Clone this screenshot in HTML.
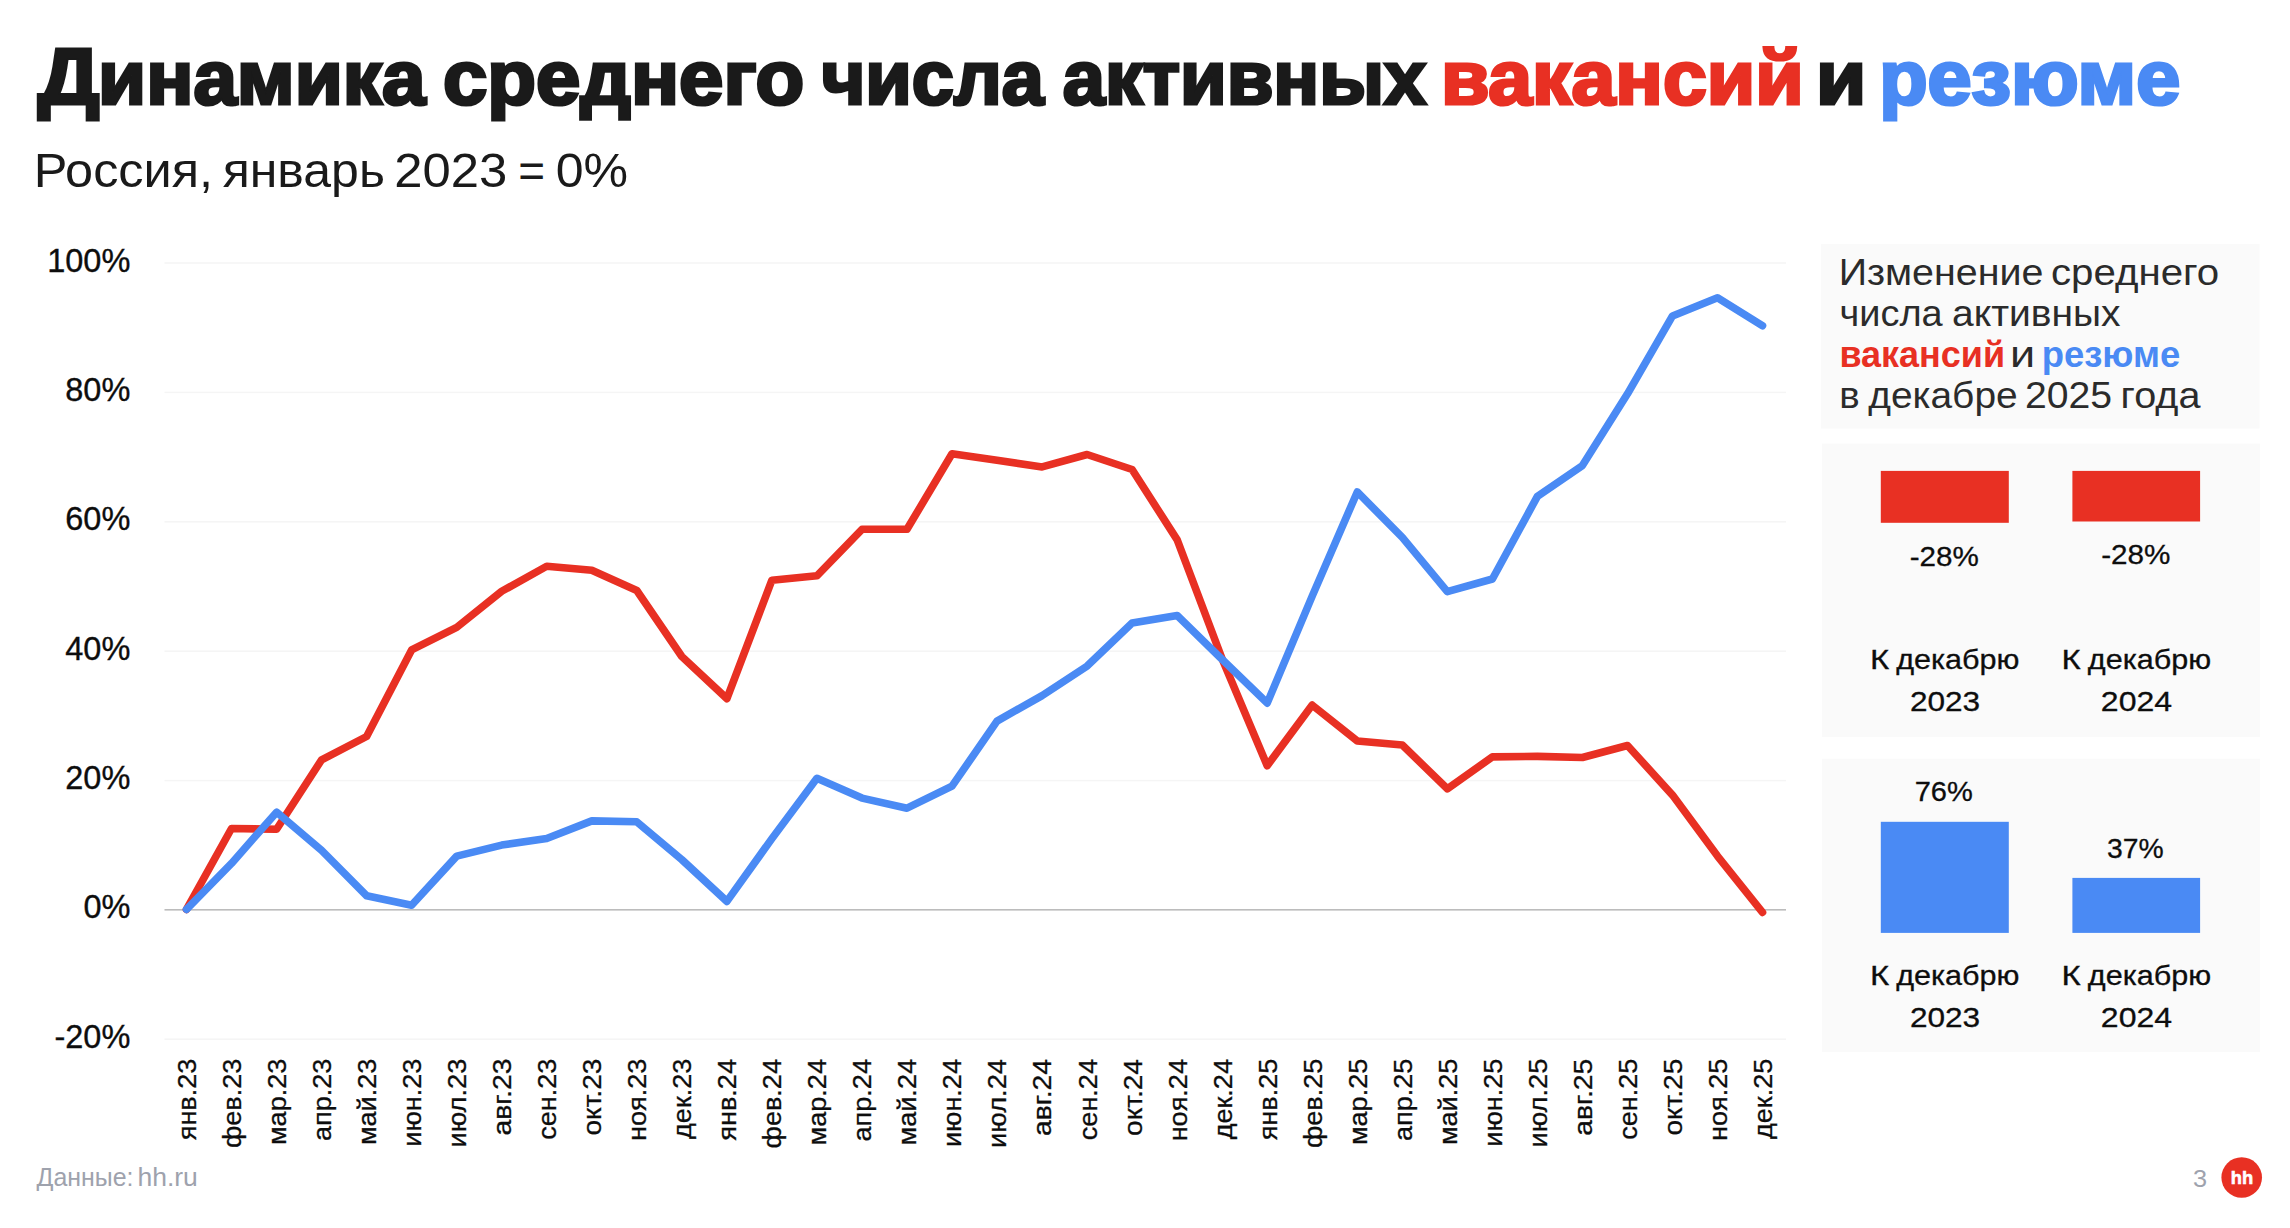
<!DOCTYPE html>
<html lang="ru"><head><meta charset="utf-8"><title>Динамика среднего числа активных вакансий и резюме</title>
<style>
html,body{margin:0;padding:0;background:#fff;}
body{width:2290px;height:1228px;overflow:hidden;font-family:"Liberation Sans",sans-serif;}
svg{display:block;position:absolute;left:0;top:0;}
text{font-family:"Liberation Sans",sans-serif;}
.t{font-weight:700;stroke-linejoin:miter;paint-order:stroke fill;}
.ax{fill:#0d0d0d;stroke:#0d0d0d;stroke-width:.35px;}
.xl{fill:#0d0d0d;stroke:#0d0d0d;stroke-width:.3px;}
.p{fill:#2b2b2b;}
.pb{font-weight:700;}
.b{fill:#0d0d0d;stroke:#0d0d0d;stroke-width:.3px;}
.f{fill:#9ea2ad;}
</style></head><body>
<svg width="2290" height="1228" viewBox="0 0 2290 1228">

<text class="t" style="fill:#1a1a1a;font-weight:700;stroke:#1a1a1a;stroke-width:3.2px;" x="37.74" y="104.10" font-size="80.20" textLength="61.83" lengthAdjust="spacingAndGlyphs">Д</text>
<text class="t" style="fill:#1a1a1a;font-weight:700;stroke:#1a1a1a;stroke-width:3.2px;" x="98.08" y="104.10" font-size="76.00" textLength="327.33" lengthAdjust="spacingAndGlyphs">инамика</text>
<text class="t" style="fill:#1a1a1a;font-weight:700;stroke:#1a1a1a;stroke-width:3.2px;" x="443.00" y="104.10" font-size="76.00" textLength="361.21" lengthAdjust="spacingAndGlyphs">среднего</text>
<text class="t" style="fill:#1a1a1a;font-weight:700;stroke:#1a1a1a;stroke-width:3.2px;" x="821.44" y="104.10" font-size="76.00" textLength="222.48" lengthAdjust="spacingAndGlyphs">числа</text>
<text class="t" style="fill:#1a1a1a;font-weight:700;stroke:#1a1a1a;stroke-width:3.2px;" x="1062.68" y="104.10" font-size="76.00" textLength="363.58" lengthAdjust="spacingAndGlyphs">активных</text>
<text class="t" style="fill:#e83023;font-weight:700;stroke:#e83023;stroke-width:3.2px;" x="1440.91" y="104.10" font-size="76.00" textLength="362.73" lengthAdjust="spacingAndGlyphs">вакансий</text>
<text class="t" style="fill:#1a1a1a;font-weight:700;stroke:#1a1a1a;stroke-width:3.2px;" x="1816.13" y="104.10" font-size="76.00" textLength="50.23" lengthAdjust="spacingAndGlyphs">и</text>
<text class="t" style="fill:#4a8af4;font-weight:700;stroke:#4a8af4;stroke-width:3.2px;" x="1879.20" y="104.10" font-size="76.00" textLength="301.00" lengthAdjust="spacingAndGlyphs">резюме</text>
<text style="fill:#1a1a1a;" x="33.71" y="186.60" font-size="48.60" textLength="179.36" lengthAdjust="spacingAndGlyphs">Россия,</text>
<text style="fill:#1a1a1a;" x="222.69" y="186.60" font-size="48.60" textLength="162.26" lengthAdjust="spacingAndGlyphs">январь</text>
<text style="fill:#1a1a1a;" x="394.25" y="186.60" font-size="48.60" textLength="112.99" lengthAdjust="spacingAndGlyphs">2023</text>
<text style="fill:#1a1a1a;" x="518.36" y="186.60" font-size="48.60" textLength="26.80" lengthAdjust="spacingAndGlyphs">=</text>
<text style="fill:#1a1a1a;" x="555.74" y="186.60" font-size="48.60" textLength="72.34" lengthAdjust="spacingAndGlyphs">0%</text>
<rect x="164.5" y="262.25" width="1621.5" height="1.5" fill="#f5f5f5"/>
<rect x="164.5" y="391.65" width="1621.5" height="1.5" fill="#f5f5f5"/>
<rect x="164.5" y="521.05" width="1621.5" height="1.5" fill="#f5f5f5"/>
<rect x="164.5" y="650.45" width="1621.5" height="1.5" fill="#f5f5f5"/>
<rect x="164.5" y="779.85" width="1621.5" height="1.5" fill="#f5f5f5"/>
<rect x="164.5" y="1038.45" width="1621.5" height="1.5" fill="#f5f5f5"/>
<rect x="164.5" y="909.0" width="1621.5" height="1.6" fill="#bcbcbc"/>
<text class="ax" x="47.22" y="271.6" font-size="33.0" textLength="83.14" lengthAdjust="spacingAndGlyphs">100%</text>
<text class="ax" x="65.30" y="401.0" font-size="33.0" textLength="65.06" lengthAdjust="spacingAndGlyphs">80%</text>
<text class="ax" x="65.30" y="530.4" font-size="33.0" textLength="65.06" lengthAdjust="spacingAndGlyphs">60%</text>
<text class="ax" x="65.30" y="659.8" font-size="33.0" textLength="65.06" lengthAdjust="spacingAndGlyphs">40%</text>
<text class="ax" x="65.30" y="789.2" font-size="33.0" textLength="65.06" lengthAdjust="spacingAndGlyphs">20%</text>
<text class="ax" x="83.38" y="918.4" font-size="33.0" textLength="46.98" lengthAdjust="spacingAndGlyphs">0%</text>
<text class="ax" x="54.48" y="1047.8" font-size="33.0" textLength="75.88" lengthAdjust="spacingAndGlyphs">-20%</text>
<text class="xl" transform="rotate(-90)" x="-1140.29" y="195.90" font-size="26.3" textLength="81.68" lengthAdjust="spacingAndGlyphs">янв.23</text>
<text class="xl" transform="rotate(-90)" x="-1148.01" y="240.93" font-size="26.3" textLength="89.40" lengthAdjust="spacingAndGlyphs">фев.23</text>
<text class="xl" transform="rotate(-90)" x="-1145.02" y="285.96" font-size="26.3" textLength="86.41" lengthAdjust="spacingAndGlyphs">мар.23</text>
<text class="xl" transform="rotate(-90)" x="-1141.07" y="330.99" font-size="26.3" textLength="82.46" lengthAdjust="spacingAndGlyphs">апр.23</text>
<text class="xl" transform="rotate(-90)" x="-1145.09" y="376.02" font-size="26.3" textLength="86.48" lengthAdjust="spacingAndGlyphs">май.23</text>
<text class="xl" transform="rotate(-90)" x="-1146.68" y="421.05" font-size="26.3" textLength="88.07" lengthAdjust="spacingAndGlyphs">июн.23</text>
<text class="xl" transform="rotate(-90)" x="-1147.52" y="466.08" font-size="26.3" textLength="88.91" lengthAdjust="spacingAndGlyphs">июл.23</text>
<text class="xl" transform="rotate(-90)" x="-1135.60" y="511.11" font-size="26.3" textLength="76.99" lengthAdjust="spacingAndGlyphs">авг.23</text>
<text class="xl" transform="rotate(-90)" x="-1139.84" y="556.14" font-size="26.3" textLength="81.23" lengthAdjust="spacingAndGlyphs">сен.23</text>
<text class="xl" transform="rotate(-90)" x="-1135.59" y="601.17" font-size="26.3" textLength="76.98" lengthAdjust="spacingAndGlyphs">окт.23</text>
<text class="xl" transform="rotate(-90)" x="-1140.96" y="646.20" font-size="26.3" textLength="82.35" lengthAdjust="spacingAndGlyphs">ноя.23</text>
<text class="xl" transform="rotate(-90)" x="-1138.99" y="691.23" font-size="26.3" textLength="80.38" lengthAdjust="spacingAndGlyphs">дек.23</text>
<text class="xl" transform="rotate(-90)" x="-1140.68" y="736.26" font-size="26.3" textLength="81.68" lengthAdjust="spacingAndGlyphs">янв.24</text>
<text class="xl" transform="rotate(-90)" x="-1148.41" y="781.29" font-size="26.3" textLength="89.40" lengthAdjust="spacingAndGlyphs">фев.24</text>
<text class="xl" transform="rotate(-90)" x="-1145.42" y="826.32" font-size="26.3" textLength="86.41" lengthAdjust="spacingAndGlyphs">мар.24</text>
<text class="xl" transform="rotate(-90)" x="-1141.46" y="871.35" font-size="26.3" textLength="82.46" lengthAdjust="spacingAndGlyphs">апр.24</text>
<text class="xl" transform="rotate(-90)" x="-1145.48" y="916.38" font-size="26.3" textLength="86.48" lengthAdjust="spacingAndGlyphs">май.24</text>
<text class="xl" transform="rotate(-90)" x="-1147.07" y="961.41" font-size="26.3" textLength="88.07" lengthAdjust="spacingAndGlyphs">июн.24</text>
<text class="xl" transform="rotate(-90)" x="-1147.92" y="1006.44" font-size="26.3" textLength="88.91" lengthAdjust="spacingAndGlyphs">июл.24</text>
<text class="xl" transform="rotate(-90)" x="-1136.00" y="1051.47" font-size="26.3" textLength="76.99" lengthAdjust="spacingAndGlyphs">авг.24</text>
<text class="xl" transform="rotate(-90)" x="-1140.23" y="1096.50" font-size="26.3" textLength="81.23" lengthAdjust="spacingAndGlyphs">сен.24</text>
<text class="xl" transform="rotate(-90)" x="-1135.99" y="1141.53" font-size="26.3" textLength="76.98" lengthAdjust="spacingAndGlyphs">окт.24</text>
<text class="xl" transform="rotate(-90)" x="-1141.36" y="1186.56" font-size="26.3" textLength="82.35" lengthAdjust="spacingAndGlyphs">ноя.24</text>
<text class="xl" transform="rotate(-90)" x="-1139.39" y="1231.59" font-size="26.3" textLength="80.38" lengthAdjust="spacingAndGlyphs">дек.24</text>
<text class="xl" transform="rotate(-90)" x="-1140.34" y="1276.62" font-size="26.3" textLength="81.68" lengthAdjust="spacingAndGlyphs">янв.25</text>
<text class="xl" transform="rotate(-90)" x="-1148.06" y="1321.65" font-size="26.3" textLength="89.40" lengthAdjust="spacingAndGlyphs">фев.25</text>
<text class="xl" transform="rotate(-90)" x="-1145.07" y="1366.68" font-size="26.3" textLength="86.41" lengthAdjust="spacingAndGlyphs">мар.25</text>
<text class="xl" transform="rotate(-90)" x="-1141.12" y="1411.71" font-size="26.3" textLength="82.46" lengthAdjust="spacingAndGlyphs">апр.25</text>
<text class="xl" transform="rotate(-90)" x="-1145.14" y="1456.74" font-size="26.3" textLength="86.48" lengthAdjust="spacingAndGlyphs">май.25</text>
<text class="xl" transform="rotate(-90)" x="-1146.73" y="1501.77" font-size="26.3" textLength="88.07" lengthAdjust="spacingAndGlyphs">июн.25</text>
<text class="xl" transform="rotate(-90)" x="-1147.57" y="1546.80" font-size="26.3" textLength="88.91" lengthAdjust="spacingAndGlyphs">июл.25</text>
<text class="xl" transform="rotate(-90)" x="-1135.66" y="1591.83" font-size="26.3" textLength="76.99" lengthAdjust="spacingAndGlyphs">авг.25</text>
<text class="xl" transform="rotate(-90)" x="-1139.89" y="1636.86" font-size="26.3" textLength="81.23" lengthAdjust="spacingAndGlyphs">сен.25</text>
<text class="xl" transform="rotate(-90)" x="-1135.64" y="1681.89" font-size="26.3" textLength="76.98" lengthAdjust="spacingAndGlyphs">окт.25</text>
<text class="xl" transform="rotate(-90)" x="-1141.01" y="1726.92" font-size="26.3" textLength="82.35" lengthAdjust="spacingAndGlyphs">ноя.25</text>
<text class="xl" transform="rotate(-90)" x="-1139.04" y="1771.95" font-size="26.3" textLength="80.38" lengthAdjust="spacingAndGlyphs">дек.25</text>
<polyline fill="none" stroke="#e83023" stroke-width="7.6" stroke-linejoin="round" stroke-linecap="round" points="186.5,909.4 231.5,828.5 276.6,829.2 321.6,759.8 366.6,736.5 411.6,649.9 456.7,627.4 501.7,591.3 546.7,566.3 591.8,570.2 636.8,590.5 681.8,656.5 726.9,698.6 771.9,580.2 816.9,575.8 862.0,529.3 907.0,529.3 952.0,453.7 997.0,460.3 1042.1,466.9 1087.1,454.5 1132.1,469.5 1177.2,539.9 1222.2,659.0 1267.2,765.7 1312.2,705.1 1357.3,741.0 1402.3,745.0 1447.3,788.8 1492.4,756.9 1537.4,756.4 1582.4,757.5 1627.5,745.5 1672.5,795.1 1717.5,856.1 1762.5,912.4"/>
<polyline fill="none" stroke="#4a8af4" stroke-width="7.6" stroke-linejoin="round" stroke-linecap="round" points="186.5,909.4 231.5,863.4 276.6,812.2 321.6,850.4 366.6,895.7 411.6,905.3 456.7,856.1 501.7,845.1 546.7,838.5 591.8,820.9 636.8,821.8 681.8,859.6 726.9,901.4 771.9,838.6 816.9,778.3 862.0,798.1 907.0,808.2 952.0,786.2 997.0,721.1 1042.1,695.6 1087.1,666.1 1132.1,623.0 1177.2,615.5 1222.2,659.5 1267.2,703.1 1312.2,596.1 1357.3,491.9 1402.3,537.4 1447.3,591.6 1492.4,579.0 1537.4,496.4 1582.4,465.6 1627.5,393.8 1672.5,315.9 1717.5,297.7 1762.5,325.7"/>
<rect x="1821" y="244" width="438.5" height="184.6" fill="#fafafa"/>
<rect x="1822" y="443.6" width="438" height="293.4" fill="#fafafa"/>
<rect x="1822" y="758.8" width="438" height="293.2" fill="#fafafa"/>
<text class="p" x="1838.67" y="284.60" font-size="37.00" textLength="204.68" lengthAdjust="spacingAndGlyphs">Изменение</text>
<text class="p" x="2051.01" y="284.60" font-size="37.00" textLength="168.16" lengthAdjust="spacingAndGlyphs">среднего</text>
<text class="p" x="1839.64" y="325.90" font-size="37.00" textLength="103.06" lengthAdjust="spacingAndGlyphs">числа</text>
<text class="p" x="1952.14" y="325.90" font-size="37.00" textLength="168.38" lengthAdjust="spacingAndGlyphs">активных</text>
<text class="p pb" style="fill:#e83023;font-weight:700;" x="1839.39" y="366.50" font-size="37.00" textLength="165.69" lengthAdjust="spacingAndGlyphs">вакансий</text>
<text class="p" x="2009.98" y="366.50" font-size="37.00" textLength="25.14" lengthAdjust="spacingAndGlyphs">и</text>
<text class="p pb" style="fill:#4a8af4;font-weight:700;" x="2041.71" y="366.50" font-size="37.00" textLength="138.54" lengthAdjust="spacingAndGlyphs">резюме</text>
<text class="p" x="1839.23" y="407.60" font-size="37.00" textLength="20.44" lengthAdjust="spacingAndGlyphs">в</text>
<text class="p" x="1868.32" y="407.60" font-size="37.00" textLength="149.32" lengthAdjust="spacingAndGlyphs">декабре</text>
<text class="p" x="2025.03" y="407.60" font-size="37.00" textLength="87.11" lengthAdjust="spacingAndGlyphs">2025</text>
<text class="p" x="2120.62" y="407.60" font-size="37.00" textLength="79.78" lengthAdjust="spacingAndGlyphs">года</text>
<rect x="1880.8" y="470.9" width="128" height="51.9" fill="#e83023"/>
<rect x="2072.4" y="470.9" width="127.7" height="50.6" fill="#e83023"/>
<text class="b" x="1909.68" y="566.00" font-size="28.30" textLength="69.17" lengthAdjust="spacingAndGlyphs">-28%</text>
<text class="b" x="2101.18" y="564.20" font-size="28.30" textLength="69.28" lengthAdjust="spacingAndGlyphs">-28%</text>
<text class="b" x="1869.90" y="668.50" font-size="28.30" textLength="19.20" lengthAdjust="spacingAndGlyphs">К</text>
<text class="b" x="1896.20" y="668.50" font-size="28.30" textLength="123.29" lengthAdjust="spacingAndGlyphs">декабрю</text>
<text class="b" x="1869.90" y="984.50" font-size="28.30" textLength="19.20" lengthAdjust="spacingAndGlyphs">К</text>
<text class="b" x="1896.20" y="984.50" font-size="28.30" textLength="123.29" lengthAdjust="spacingAndGlyphs">декабрю</text>
<text class="b" x="1909.91" y="711.00" font-size="28.30" textLength="70.28" lengthAdjust="spacingAndGlyphs">2023</text>
<text class="b" x="1909.91" y="1026.70" font-size="28.30" textLength="70.28" lengthAdjust="spacingAndGlyphs">2023</text>
<text class="b" x="2061.50" y="668.50" font-size="28.30" textLength="19.20" lengthAdjust="spacingAndGlyphs">К</text>
<text class="b" x="2087.80" y="668.50" font-size="28.30" textLength="123.29" lengthAdjust="spacingAndGlyphs">декабрю</text>
<text class="b" x="2061.50" y="984.50" font-size="28.30" textLength="19.20" lengthAdjust="spacingAndGlyphs">К</text>
<text class="b" x="2087.80" y="984.50" font-size="28.30" textLength="123.29" lengthAdjust="spacingAndGlyphs">декабрю</text>
<text class="b" x="2100.89" y="711.00" font-size="28.30" textLength="71.25" lengthAdjust="spacingAndGlyphs">2024</text>
<text class="b" x="2100.89" y="1026.70" font-size="28.30" textLength="71.25" lengthAdjust="spacingAndGlyphs">2024</text>
<rect x="1880.8" y="821.8" width="128" height="111.1" fill="#4a8af4"/>
<rect x="2072.4" y="877.9" width="127.7" height="55" fill="#4a8af4"/>
<text class="b" x="1914.71" y="800.70" font-size="28.30" textLength="58.12" lengthAdjust="spacingAndGlyphs">76%</text>
<text class="b" x="2107.12" y="858.10" font-size="28.30" textLength="56.69" lengthAdjust="spacingAndGlyphs">37%</text>
<text class="f" x="36.52" y="1186.40" font-size="25.00" textLength="96.96" lengthAdjust="spacingAndGlyphs">Данные:</text>
<text class="f" x="137.46" y="1186.40" font-size="25.00" textLength="60.40" lengthAdjust="spacingAndGlyphs">hh.ru</text>
<text class="f" x="2192.94" y="1187.00" font-size="24.60" textLength="14.08" lengthAdjust="spacingAndGlyphs">3</text>
<circle cx="2241.7" cy="1177.5" r="20.3" fill="#e83023"/>
<text style="fill:#ffffff;font-weight:700;stroke:#ffffff;stroke-width:0.6px;" x="2230.82" y="1184.00" font-size="19.00" textLength="22.42" lengthAdjust="spacingAndGlyphs">hh</text>
</svg>
</body></html>
